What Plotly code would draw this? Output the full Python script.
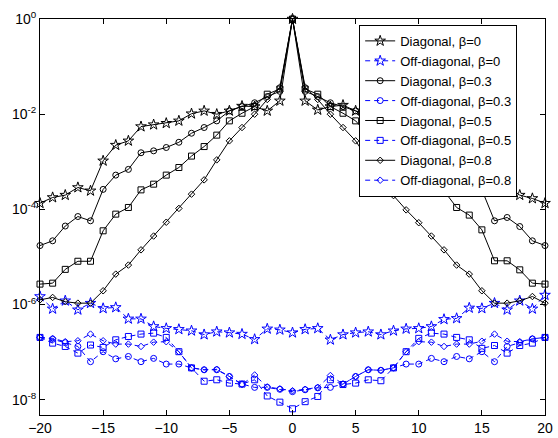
import numpy as np
import plotly.graph_objects as go

x = list(range(-20, 21))

# log10 of the plotted values
diag_b0 = [-3.87, -3.75, -3.70, -3.54, -3.61, -2.98, -2.65, -2.56, -2.26, -2.22, -2.19, -2.14, -1.99, -1.93, -2.00, -1.93, -1.83, -1.84, -1.93, -1.72,
           0.0,
           -1.72, -1.91, -1.84, -1.81, -1.93, -2.00, -1.93, -1.99, -2.14, -2.19, -2.22, -2.26, -2.56, -2.65, -2.98, -3.63, -3.55, -3.70, -3.77, -3.87]
diag_b03 = [-4.76, -4.66, -4.35, -4.15, -4.24, -3.58, -3.28, -3.16, -2.81, -2.77, -2.70, -2.59, -2.40, -2.28, -2.14, -1.93, -1.84, -1.76, -1.63, -1.52,
            0.0,
            -1.52, -1.63, -1.76, -1.84, -1.93, -2.14, -2.28, -2.40, -2.59, -2.70, -2.77, -2.81, -3.16, -3.28, -3.59, -4.24, -4.17, -4.36, -4.66, -4.76]
diag_b05 = [-5.57, -5.55, -5.26, -5.09, -5.09, -4.45, -4.10, -3.96, -3.59, -3.47, -3.28, -3.12, -2.88, -2.68, -2.44, -2.14, -1.98, -1.84, -1.58, -1.47,
            0.0,
            -1.47, -1.58, -1.84, -1.98, -2.14, -2.44, -2.68, -2.88, -3.12, -3.28, -3.47, -3.61, -3.96, -4.12, -4.43, -5.08, -5.08, -5.27, -5.55, -5.57]
diag_b08 = [-5.90, -5.85, -5.94, -5.97, -5.97, -5.71, -5.36, -5.17, -4.85, -4.56, -4.27, -3.98, -3.68, -3.38, -2.96, -2.56, -2.28, -2.00, -1.69, -1.43,
            0.0,
            -1.43, -1.69, -2.00, -2.28, -2.56, -2.96, -3.38, -3.71, -4.01, -4.28, -4.56, -4.85, -5.17, -5.36, -5.71, -5.97, -5.97, -5.92, -5.83, -5.97]
off_b0 = [-5.83, -6.09, -5.92, -6.11, -5.97, -6.08, -6.06, -6.30, -6.30, -6.46, -6.50, -6.52, -6.55, -6.63, -6.57, -6.59, -6.62, -6.73, -6.51, -6.53,
          -6.59,
          -6.52, -6.50, -6.74, -6.63, -6.59, -6.57, -6.63, -6.55, -6.51, -6.50, -6.46, -6.31, -6.29, -6.07, -6.08, -5.97, -6.11, -5.92, -6.09, -5.80]
off_b03 = [-6.69, -6.73, -6.80, -6.88, -7.20, -6.99, -7.14, -7.09, -7.20, -7.13, -7.25, -7.25, -7.33, -7.37, -7.37, -7.51, -7.67, -7.74, -7.74, -7.78,
           -7.83,
           -7.79, -7.75, -7.74, -7.67, -7.51, -7.37, -7.38, -7.33, -7.25, -7.25, -7.13, -7.20, -7.09, -7.14, -6.99, -7.20, -6.88, -6.80, -6.72, -6.69]
off_b05 = [-6.69, -6.81, -6.88, -7.02, -6.85, -6.90, -6.74, -6.67, -6.62, -6.60, -6.69, -6.99, -7.33, -7.61, -7.58, -7.65, -7.67, -7.58, -7.92, -8.05,
           -8.19,
           -8.04, -7.93, -7.58, -7.68, -7.65, -7.58, -7.60, -7.33, -6.99, -6.71, -6.60, -6.62, -6.69, -6.74, -6.92, -6.86, -7.02, -6.86, -6.81, -6.69]
off_b08 = [-6.69, -6.71, -6.78, -6.76, -6.62, -6.76, -6.83, -6.83, -6.88, -6.79, -6.78, -6.99, -7.33, -7.37, -7.36, -7.51, -7.68, -7.48, -7.73, -7.77,
           -7.81,
           -7.78, -7.74, -7.49, -7.67, -7.51, -7.37, -7.38, -7.33, -6.99, -6.78, -6.79, -6.88, -6.83, -6.83, -6.77, -6.62, -6.77, -6.78, -6.72, -6.69]

ytick_vals = [1, 1e-2, 1e-4, 1e-6, 1e-8]
ytick_text = ["10<sup>0</sup>", "10<sup>-2</sup>", "10<sup>-4</sup>", "10<sup>-6</sup>", "10<sup>-8</sup>"]
xtick_vals = [-20, -15, -10, -5, 0, 5, 10, 15, 20]

BLACK = "#000000"
BLUE = "#0000ff"
DASH = "5px,4px"

series = [
    ("Diagonal, β=0", diag_b0, BLACK, "solid", "star-open", 8),
    ("Off-diagonal, β=0", off_b0, BLUE, DASH, "star-open", 8),
    ("Diagonal, β=0.3", diag_b03, BLACK, "solid", "circle-open", 6),
    ("Off-diagonal, β=0.3", off_b03, BLUE, DASH, "circle-open", 6),
    ("Diagonal, β=0.5", diag_b05, BLACK, "solid", "square-open", 6),
    ("Off-diagonal, β=0.5", off_b05, BLUE, DASH, "square-open", 6),
    ("Diagonal, β=0.8", diag_b08, BLACK, "solid", "diamond-open", 5),
    ("Off-diagonal, β=0.8", off_b08, BLUE, DASH, "diamond-open", 5),
]

fig = go.Figure()
for name, vals, color, dash, sym, size in series:
    fig.add_trace(go.Scatter(
        x=x, y=np.power(10.0, vals), name=name, mode="lines+markers",
        line=dict(color=color, width=1, dash=dash),
        marker=dict(symbol=sym, size=size, color=color, line=dict(width=1, color=color)),
        cliponaxis=False,
    ))

FAM = "Liberation Sans, Arial, sans-serif"
font = dict(family=FAM, size=14, color="black")
fig.update_layout(
    width=558, height=438,
    margin=dict(l=40, r=13, t=19, b=23, autoexpand=False),
    paper_bgcolor="white", plot_bgcolor="white",
    font=font,
    showlegend=True,
    legend=dict(x=0.632, y=0.985, xanchor="left", yanchor="top",
                bgcolor="white", bordercolor="black", borderwidth=1,
                font=dict(family=FAM, size=13, color="black"),
                tracegroupgap=0),
    xaxis=dict(range=[-20, 20], tickvals=xtick_vals, ticks="inside", ticklen=5,
               showgrid=False, zeroline=False, showline=True, linecolor="black",
               linewidth=1, mirror="ticks", tickcolor="black", tickfont=font,
               automargin=False),
    yaxis=dict(type="log", range=[-8.32, 0], tickvals=ytick_vals, ticktext=ytick_text,
               ticks="inside", ticklen=5, showgrid=False, zeroline=False,
               showline=True, linecolor="black", linewidth=1, mirror="ticks",
               tickcolor="black", tickfont=font, automargin=False),
)

fig.write_html("out.html")
